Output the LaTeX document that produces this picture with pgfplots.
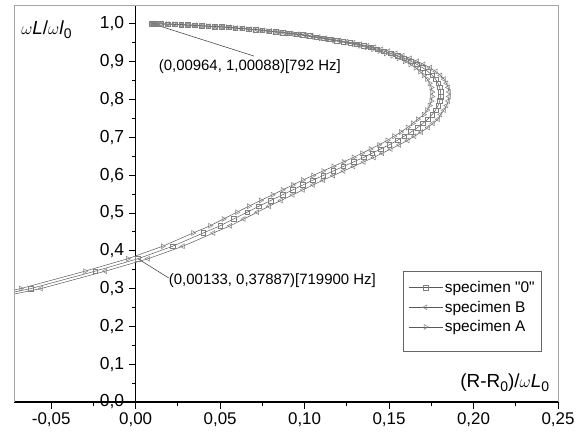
\documentclass[border=0pt]{standalone}
\usepackage{pgfplots}
\pgfplotsset{compat=1.18}
\usepackage{pgfplotstable}
\usepackage{fontspec}
\setmainfont{Liberation Sans}
\newfontfamily\qfont[Ligatures=ResetAll]{Liberation Sans}
\pgfplotstableread{
y x0 xA xB
0.279 -0.085 -0.091 -0.079
0.300 -0.062 -0.068 -0.056
0.346 -0.024 -0.030 -0.018
0.37887 0.00133 -0.00467 0.00733
0.412 0.022 0.016 0.028
0.447 0.040 0.034 0.046
0.466 0.050 0.044 0.056
0.484 0.058 0.052 0.064
0.502 0.066 0.060 0.072
0.518 0.073 0.067 0.079
0.533 0.080 0.074 0.086
0.548 0.087 0.081 0.093
0.561 0.093 0.087 0.099
0.574 0.099 0.093 0.105
0.587 0.105 0.099 0.111
0.599 0.111 0.105 0.117
0.611 0.117 0.111 0.123
0.623 0.123 0.117 0.129
0.635 0.129 0.123 0.135
0.647 0.135 0.129 0.141
0.658 0.140 0.134 0.146
0.669 0.145 0.139 0.151
0.680 0.150 0.144 0.156
0.692 0.155 0.149 0.161
0.703 0.159 0.153 0.165
0.714 0.163 0.157 0.169
0.726 0.167 0.161 0.173
0.737 0.170 0.164 0.176
0.748 0.173 0.167 0.179
0.760 0.1755 0.1705 0.1805
0.772 0.1775 0.1725 0.1825
0.784 0.179 0.174 0.184
0.796 0.180 0.175 0.185
0.808 0.1805 0.1755 0.1855
0.820 0.1805 0.1755 0.1855
0.832 0.180 0.175 0.185
0.843 0.179 0.174 0.184
0.854 0.1775 0.1725 0.1825
0.864 0.1755 0.1705 0.1805
0.874 0.173 0.1684 0.1776
0.884 0.170 0.1657 0.1743
0.893 0.1665 0.1626 0.1704
0.901 0.163 0.1593 0.1667
0.909 0.159 0.1556 0.1624
0.916 0.155 0.1519 0.1581
0.922 0.151 0.1481 0.1539
0.928 0.147 0.1443 0.1497
0.933 0.143 0.1405 0.1455
0.938 0.139 0.1367 0.1413
0.942 0.135 0.1328 0.1372
0.946 0.131 0.1290 0.1330
0.950 0.127 0.1251 0.1289
0.953 0.123 0.1212 0.1248
0.956 0.119 0.1174 0.1206
0.959 0.115 0.1135 0.1165
0.962 0.111 0.1096 0.1124
0.965 0.107 0.1057 0.1083
0.968 0.103 0.1018 0.1042
0.971 0.099 0.0979 0.1001
0.973 0.095 0.0940 0.0960
0.975 0.091 0.0901 0.0919
0.977 0.087 0.0861 0.0879
0.979 0.083 0.0822 0.0838
0.981 0.079 0.0783 0.0797
0.983 0.075 0.0743 0.0757
0.985 0.071 0.0704 0.0716
0.986 0.067 0.0665 0.0675
0.988 0.063 0.0625 0.0635
0.989 0.059 0.0586 0.0594
0.991 0.055 0.0546 0.0554
0.992 0.051 0.0507 0.0513
0.993 0.047 0.0467 0.0473
0.994 0.043 0.0427 0.0433
0.995 0.039 0.0388 0.0392
0.996 0.035 0.0348 0.0352
0.997 0.031 0.0309 0.0311
0.998 0.027 0.0269 0.0271
0.999 0.023 0.0229 0.0231
0.9995 0.019 0.019 0.019
1.000 0.015 0.015 0.015
1.0005 0.012 0.012 0.012
1.0007 0.0108 0.0108 0.0108
1.00088 0.00964 0.00964 0.00964
}\data
\begin{document}
\begin{tikzpicture}
\begin{axis}[
  name=ax,
  scale only axis, width=544bp, height=397bp,
  xmin=-0.072, xmax=0.25, ymin=0, ymax=1.05,
  axis x line=bottom, axis y line=center,
  axis line style={-, line width=1.2bp, black},
  hide obscured x ticks=false, hide obscured y ticks=false,
  xtick={-0.05,0,0.05,0.1,0.15,0.2,0.25},
  ytick={0,0.1,0.2,0.3,0.4,0.5,0.6,0.7,0.8,0.9,1.0},
  minor x tick num=1, minor y tick num=1,
  tick align=outside, major tick length=7bp, minor tick length=4bp,
  tick style={black, line width=0.9bp},
  /pgf/number format/assume math mode=true,
  /pgf/number format/use comma, /pgf/number format/fixed, /pgf/number format/fixed zerofill,
  xticklabel style={/pgf/number format/precision=2, font=\fontsize{17}{17}\selectfont},
  yticklabel style={/pgf/number format/precision=1, font=\fontsize{17.5}{17.5}\selectfont, xshift=-1bp},
  scaled ticks=false,
  clip=true,
  legend style={at={(rel axis cs:0.9706,0.33)}, anchor=north east, draw=black!60, line width=0.6bp,
    font=\fontsize{15.5}{15.5}\selectfont, row sep=3bp, inner xsep=5bp, inner ysep=8bp,
    cells={anchor=west}},
  legend image code/.code={\draw[mark repeat=2,mark phase=2,#1] plot coordinates {(0bp,0bp) (17bp,0bp) (34bp,0bp)};},
  every axis y label/.style={at={(rel axis cs:0.007,0.937)}, anchor=west, font=\fontsize{19}{19}\selectfont},
  every axis x label/.style={at={(rel axis cs:0.99,0.048)}, anchor=east, font=\fontsize{19}{19}\selectfont},
  ylabel={$\omega$\textit{L}/$\omega$\textit{l}\raisebox{-0.4ex}{\fontsize{14}{14}\selectfont 0}},
  xlabel={(R-R\raisebox{-0.4ex}{\fontsize{14}{14}\selectfont 0})/$\omega$\textit{L}\raisebox{-0.4ex}{\fontsize{14}{14}\selectfont 0}},
]
\addplot[color=black!65, line width=0.5bp, mark=square, mark size=2.3bp, mark options={solid, line width=0.5bp, draw=black!50}] table[x=x0, y=y] {\data};
\addlegendentry{specimen {\qfont"0"}}
\addplot[color=black!65, line width=0.5bp, mark=triangle, mark size=2.8bp, mark options={solid, rotate=90, line width=0.5bp, draw=black!50}] table[x=xB, y=y] {\data};
\addlegendentry{specimen B}
\addplot[color=black!65, line width=0.5bp, mark=triangle, mark size=2.8bp, mark options={solid, rotate=-90, line width=0.5bp, draw=black!50}] table[x=xA, y=y] {\data};
\addlegendentry{specimen A}
\addlegendimage{empty legend}
\addlegendentry{}
\draw[black!70, line width=0.6bp] (axis cs:0.00964,1.00088) -- (axis cs:0.070,0.915);
\node[anchor=west, inner sep=0pt, font=\fontsize{15}{15}\selectfont] at (axis cs:0.0136,0.887) {(0,00964, 1,00088)[792 Hz]};
\draw[black!70, line width=0.6bp] (axis cs:0.00133,0.37887) -- (axis cs:0.0196,0.328);
\node[anchor=west, inner sep=0pt, font=\fontsize{15}{15}\selectfont] at (axis cs:0.0196,0.320) {(0,00133, 0,37887)[719900 Hz]};
\end{axis}
\draw[black!35, line width=0.8bp] (ax.south west) -- (ax.north west) -- (ax.north east) -- (ax.south east);
\path ([xshift=-14bp,yshift=-34bp]ax.south west) rectangle ([xshift=21bp,yshift=5bp]ax.north east);
\end{tikzpicture}
\end{document}
